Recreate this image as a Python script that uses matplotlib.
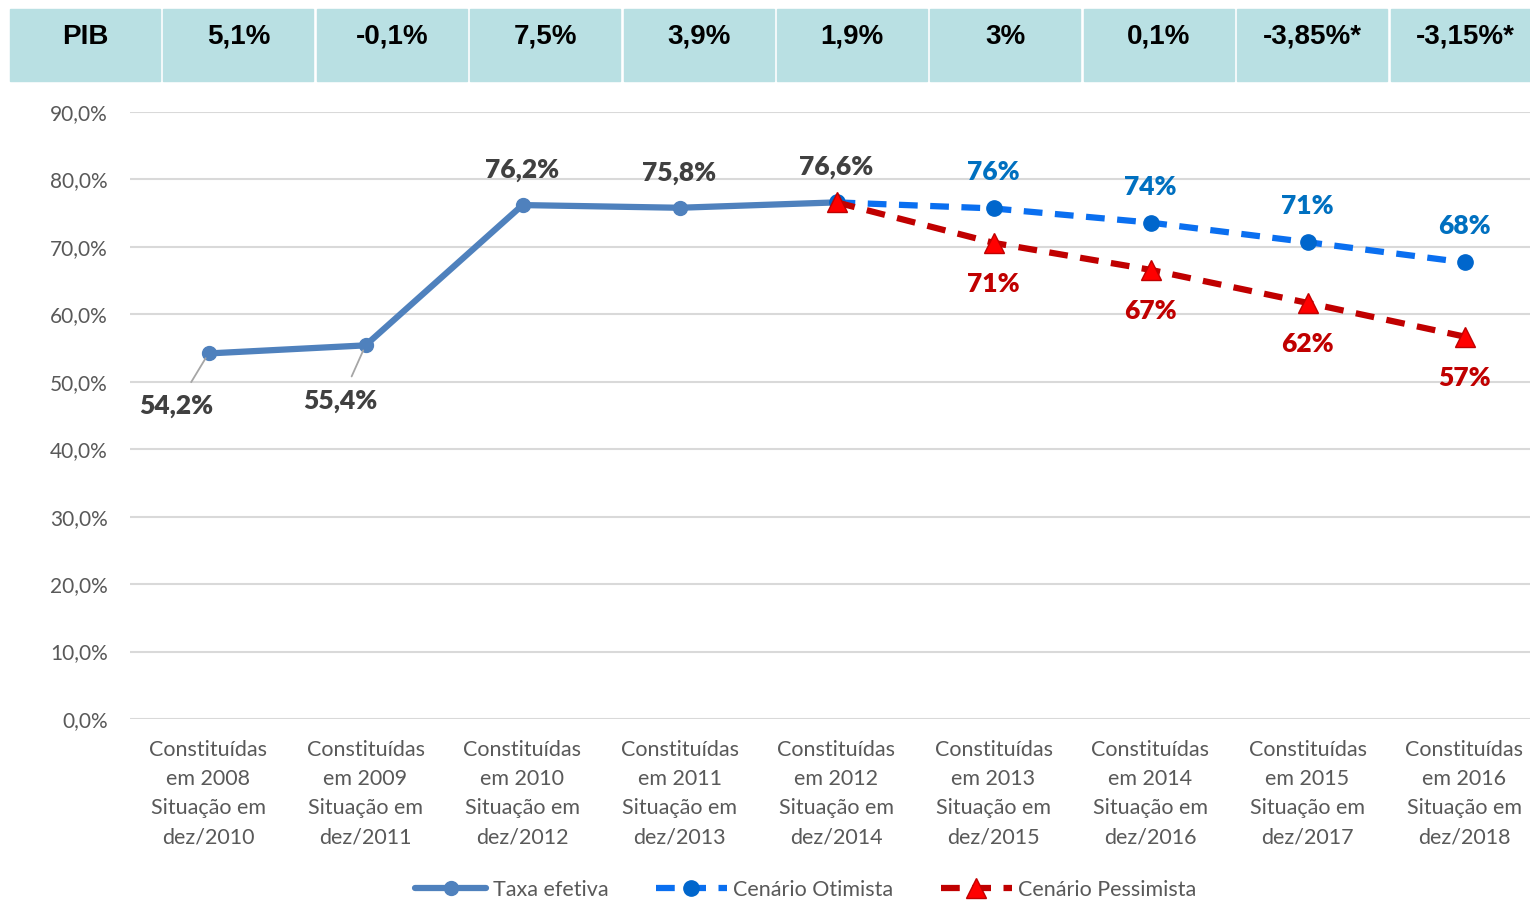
#!/usr/bin/python3
# coding:utf-8

import numpy as np
import matplotlib
matplotlib.use("Agg")
import matplotlib.pyplot as plt
from matplotlib.patches import Rectangle

categorias = ["Constituídas\nem 2008\nSituação em\ndez/2010",
              "Constituídas\nem 2009\nSituação em\ndez/2011",
              "Constituídas\nem 2010\nSituação em\ndez/2012",
              "Constituídas\nem 2011\nSituação em\ndez/2013",
              "Constituídas\nem 2012\nSituação em\ndez/2014",
              "Constituídas\nem 2013\nSituação em\ndez/2015",
              "Constituídas\nem 2014\nSituação em\ndez/2016",
              "Constituídas\nem 2015\nSituação em\ndez/2017",
              "Constituídas\nem 2016\nSituação em\ndez/2018"]

pib = ["5,1%", "-0,1%", "7,5%", "3,9%", "1,9%", "3%", "0,1%", "-3,85%*", "-3,15%*"]

taxa_x = [0, 1, 2, 3, 4]
taxa = [54.2, 55.4, 76.2, 75.8, 76.6]
taxa_lbl = ["54,2%", "55,4%", "76,2%", "75,8%", "76,6%"]

cen_x = [4, 5, 6, 7, 8]
otimista = [76.6, 75.7, 73.6, 70.7, 67.7]
otim_lbl = ["", "76%", "74%", "71%", "68%"]
pessimista = [76.6, 70.6, 66.6, 61.7, 56.7]
pess_lbl = ["", "71%", "67%", "62%", "57%"]

W, H = 1530, 901
plt.rcParams['font.family'] = ['Lato', 'DejaVu Sans']

fig = plt.figure(figsize=(W / 100, H / 100), dpi=100)
ax = fig.add_axes([130 / W, (H - 719) / H, 1413 / W, (719 - 112) / H])

# linhas
ax.plot(taxa_x, taxa, color="#4f81bd", lw=4.5, marker="o", ms=10,
        label="Taxa efetiva", zorder=3, solid_capstyle="round")
ax.plot(cen_x, otimista, color="#0a6ff0", lw=4.5, ls=(0, (3, 2)), marker="o",
        ms=11, mfc="#0066cc", mec="#0066cc", label="Cenário Otimista", zorder=4)
ax.plot(cen_x, pessimista, color="#c00000", lw=4.5, ls=(0, (3, 2)), marker="^",
        ms=14, mfc="#ff0000", mec="#c00000", label="Cenário Pessimista", zorder=5)

# rótulos
lbl_font = dict(fontsize=19, fontweight="heavy", ha="center", va="center")
for i, (x, y, t) in enumerate(zip(taxa_x, taxa, taxa_lbl)):
    if i < 2:
        off = (-32, -53) if i == 0 else (-25, -56)
        ax.annotate(t, (x, y), xytext=off, textcoords="offset pixels",
                    color="#404040", **lbl_font,
                    arrowprops=dict(arrowstyle="-", color="#a6a6a6", lw=1.3,
                                    shrinkA=8, shrinkB=4))
    else:
        ax.annotate(t, (x, y), xytext=(0, 35), textcoords="offset pixels",
                    color="#404040", **lbl_font)
for x, y, t in zip(cen_x, otimista, otim_lbl):
    if t:
        ax.annotate(t, (x, y), xytext=(0, 36), textcoords="offset pixels",
                    color="#0070c0", **lbl_font)
for x, y, t in zip(cen_x, pessimista, pess_lbl):
    if t:
        ax.annotate(t, (x, y), xytext=(0, -41), textcoords="offset pixels",
                    color="#c00000", **lbl_font)

ax.set_xlim(-0.5, 8.5)
ax.set_ylim(0, 90)
yt = np.arange(0, 91, 10)
ax.set_yticks(yt)
ax.set_yticklabels(["{:.1f}%".format(v).replace(".", ",") for v in yt],
                   fontsize=15, color="#595959")
ax.set_xticks(range(len(categorias)))
ax.set_xticklabels(categorias, fontsize=15.5, color="#595959", linespacing=1.58)
ax.tick_params(length=0)
ax.tick_params(axis="x", pad=15)
ax.tick_params(axis="y", pad=16)
for s in ax.spines.values():
    s.set_visible(False)
ax.grid(axis="y", color="#d9d9d9", lw=1.5)
ax.set_axisbelow(True)

# tabela do PIB
cells = ["PIB"] + pib
for k, txt in enumerate(cells):
    x0 = 10 + 153.4 * k
    w = 150 if k < len(cells) - 1 else W - x0
    fig.patches.append(Rectangle((x0 / W, (H - 81) / H), w / W, 72 / H,
                                 transform=fig.transFigure, color="#b9e0e3",
                                 zorder=0))
    fig.text((x0 + 75) / W, (H - 37) / H, txt, fontsize=20, fontweight="bold",
             ha="center", va="center", family=["Liberation Sans"], color="#000000")

fig.legend(loc="center", bbox_to_anchor=(806 / W, (H - 890) / H), ncol=3,
           frameon=False, fontsize=15.5, labelcolor="#595959", handlelength=3.3,
           columnspacing=2.2, handletextpad=0.3)

fig.savefig("out.png", dpi=100)
